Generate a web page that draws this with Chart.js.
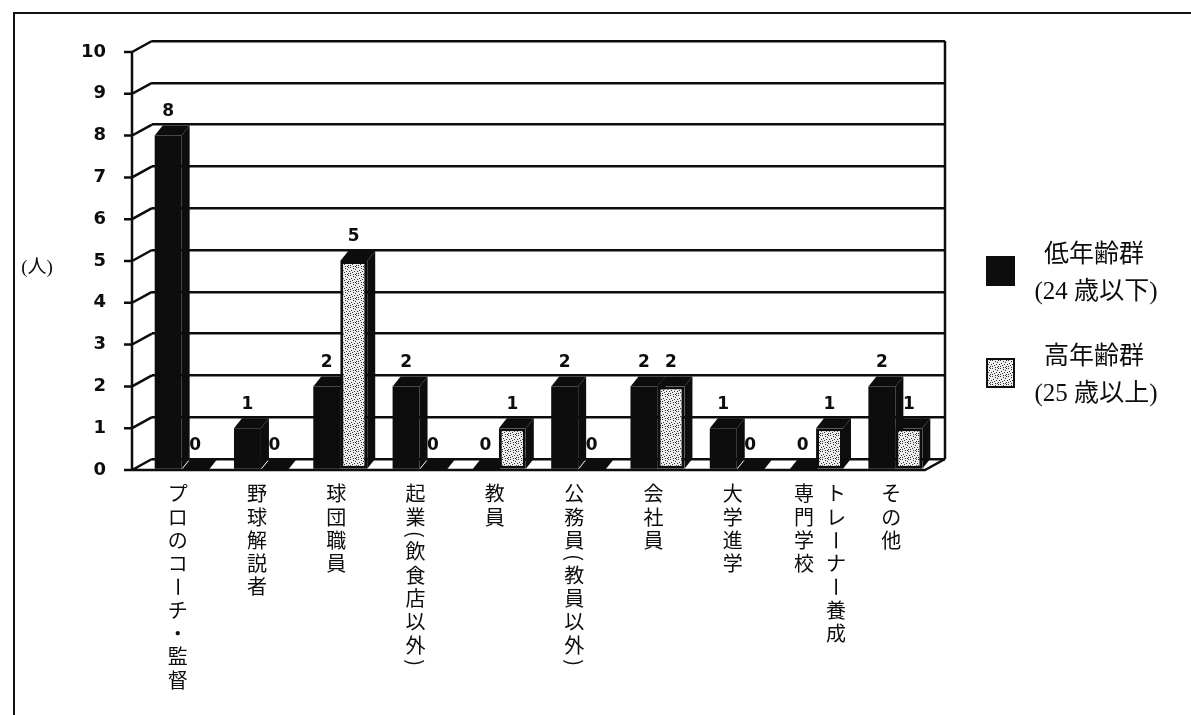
<!DOCTYPE html>
<html lang="ja">
<head>
<meta charset="utf-8">
<title>進路</title>
<script src="https://cdn.jsdelivr.net/npm/chart.js@4/dist/chart.umd.min.js"></script>
<style>
  html, body { margin: 0; padding: 0; background: #fff; }
  #wrap { position: relative; width: 1191px; height: 715px; overflow: hidden; }
  #frame { position: absolute; left: 13px; top: 12px; right: -10px; bottom: -10px;
           border-left: 2px solid #111; border-top: 2px solid #111; }
  #chart { position: absolute; left: 0; top: 0; }
</style>
</head>
<body>
<div id="wrap">
  <div id="frame"></div>
  <canvas id="chart" width="1191" height="715"></canvas>
</div>
<script>
// ===== データ =====
const categories = [
  ["プロのコーチ・監督"],
  ["野球解説者"],
  ["球団職員"],
  ["起業(飲食店以外)"],
  ["教員"],
  ["公務員(教員以外)"],
  ["会社員"],
  ["大学進学"],
  ["トレーナー養成", "専門学校"],
  ["その他"]
];
const youngCounts = [8, 1, 2, 2, 0, 2, 2, 1, 0, 2];
const olderCounts = [0, 0, 5, 0, 1, 0, 2, 0, 1, 1];
const seriesNames = ["低年齢群", "高年齢群"];
const seriesNotes = ["(24 歳以下)", "(25 歳以上)"];
const yMin = 0, yMax = 10, yStep = 1;
const unitLabel = "(人)";

// ===== 見た目 =====
const INK = "#0d0d0d";
const DEPTH_X = 8, DEPTH_Y = 10;    // 棒の上面・側面の奥行き
const SHIFT_X = -10, SHIFT_Y = 11;  // 棒の前面を手前にずらす量
const AXIS_X = -20, AXIS_Y = 11;    // 手前の縦軸と床の線
const TICK_FONT = { family: "'DejaVu Sans', sans-serif", weight: "bold", size: 18 };
const VALUE_FONT = "bold 17px 'DejaVu Sans', sans-serif";
const CAT_FONT = "20px 'Noto Sans CJK JP', sans-serif";
const LEGEND_FONT = "25px 'Liberation Serif', 'Noto Sans CJK JP', serif";
const UNIT_FONT = "19px 'Liberation Serif', 'Noto Sans CJK JP', serif";
const ROTATE_CHARS = "ー()";
const HALF_CHARS = "()";

// 高年齢群の網かけ
function makeStipple(){
  const c = document.createElement("canvas");
  c.width = 8; c.height = 8;
  const g = c.getContext("2d");
  g.fillStyle = "#ececec";
  g.fillRect(0, 0, 8, 8);
  g.fillStyle = "#333";
  [[0,0],[3,1],[6,0],[1,3],[5,2],[7,4],[2,5],[4,4],[6,6],[0,6],[3,7],[5,7]]
    .forEach(([x, y]) => g.fillRect(x, y, 1, 1));
  return g.createPattern(c, "repeat");
}
const stipple = makeStipple();

// ===== 3D風の描画 =====
function drawBarBody(ctx, el, fill){
  const L = el.x - el.width / 2 + SHIFT_X;
  const R = el.x + el.width / 2 + SHIFT_X;
  const T = el.y + SHIFT_Y;
  const B = el.base + SHIFT_Y;
  ctx.fillStyle = fill;
  ctx.beginPath();
  ctx.moveTo(L, T); ctx.lineTo(R, T);
  ctx.lineTo(R + DEPTH_X, T - DEPTH_Y); ctx.lineTo(L + DEPTH_X, T - DEPTH_Y);
  ctx.closePath(); ctx.fill();
  ctx.beginPath();
  ctx.moveTo(R, T); ctx.lineTo(R + DEPTH_X, T - DEPTH_Y);
  ctx.lineTo(R + DEPTH_X, B - DEPTH_Y); ctx.lineTo(R, B);
  ctx.closePath(); ctx.fill();
}

const depthPlugin = {
  id: "depth",
  beforeDatasetsDraw(chart){
    const { ctx, chartArea: a, scales: { y } } = chart;
    const fx = a.left + AXIS_X;
    ctx.save();
    ctx.strokeStyle = INK;
    ctx.lineWidth = 2.5;
    ctx.beginPath();
    ctx.moveTo(fx, a.top + AXIS_Y);
    ctx.lineTo(fx, a.bottom + AXIS_Y);
    y.ticks.forEach(t => {
      const py = y.getPixelForValue(t.value);
      ctx.moveTo(fx - 8, py + AXIS_Y);
      ctx.lineTo(fx, py + AXIS_Y);
      ctx.lineTo(a.left, py);
    });
    ctx.moveTo(fx, a.bottom + AXIS_Y);
    ctx.lineTo(a.right + AXIS_X, a.bottom + AXIS_Y);
    ctx.lineTo(a.right, a.bottom);
    ctx.moveTo(a.right, a.top);
    ctx.lineTo(a.right, a.bottom);
    ctx.stroke();

    for (let d = chart.data.datasets.length - 1; d >= 0; d--){
      chart.getDatasetMeta(d).data.forEach(el => drawBarBody(ctx, el, INK));
    }
    ctx.restore();

    // 前面は Chart.js に描かせて手前へずらす
    ctx.save();
    ctx.translate(SHIFT_X, SHIFT_Y);
  },
  afterDatasetsDraw(chart){
    const ctx = chart.ctx;
    ctx.restore();
    ctx.save();
    ctx.fillStyle = INK;
    ctx.font = VALUE_FONT;
    ctx.textAlign = "center";
    ctx.textBaseline = "middle";
    chart.data.datasets.forEach((ds, d) => {
      chart.getDatasetMeta(d).data.forEach((el, i) => {
        ctx.fillText(String(ds.data[i]), el.x + SHIFT_X, el.y + SHIFT_Y - 24);
      });
    });
    ctx.restore();
  },
  afterDraw(chart){
    const { ctx, chartArea: a, scales: { x } } = chart;
    ctx.save();
    ctx.fillStyle = INK;
    ctx.textAlign = "center";
    ctx.textBaseline = "middle";

    // 縦書きの項目名
    ctx.font = CAT_FONT;
    const pitch = 23.3, colGap = 32;
    categories.forEach((lines, i) => {
      const n = lines.length;
      const baseX = x.getPixelForTick(i) - 14 + (n - 1) * 8;
      lines.forEach((line, k) => {
        const cx = baseX + ((n - 1) / 2 - k) * colGap;
        let cy = a.bottom + 23;
        [...line].forEach(ch => {
          const h = HALF_CHARS.includes(ch) ? pitch / 2 : pitch;
          if (ROTATE_CHARS.includes(ch)){
            ctx.save();
            ctx.translate(cx, cy + h / 2);
            ctx.rotate(Math.PI / 2);
            ctx.fillText(ch, 0, 0);
            ctx.restore();
          } else {
            ctx.fillText(ch, cx, cy + h / 2);
          }
          cy += h;
        });
      });
    });

    // 単位
    ctx.font = UNIT_FONT;
    ctx.fillText(unitLabel, 37, 268);

    // 凡例
    ctx.font = LEGEND_FONT;
    chart.data.datasets.forEach((ds, d) => {
      const top = 240 + d * 102;
      ctx.fillStyle = ds.backgroundColor;
      ctx.fillRect(987, top + 17, 27, 28);
      ctx.strokeStyle = INK;
      ctx.lineWidth = 2;
      ctx.strokeRect(987, top + 17, 27, 28);
      ctx.fillStyle = INK;
      ctx.fillText(seriesNames[d], 1094, top + 15);
      ctx.fillText(seriesNotes[d], 1096, top + 52);
    });
    ctx.restore();
  }
};

// ===== グラフ =====
new Chart(document.getElementById("chart"), {
  type: "bar",
  data: {
    labels: categories,
    datasets: [
      {
        label: seriesNames[0] + seriesNotes[0],
        data: youngCounts,
        backgroundColor: INK,
        borderWidth: 0,
        categoryPercentage: 0.68,
        barPercentage: 1,
        clip: false
      },
      {
        label: seriesNames[1] + seriesNotes[1],
        data: olderCounts,
        backgroundColor: stipple,
        borderColor: INK,
        borderWidth: 3,
        borderSkipped: false,
        categoryPercentage: 0.68,
        barPercentage: 1,
        clip: false
      }
    ]
  },
  options: {
    responsive: false,
    devicePixelRatio: 1,
    animation: false,
    layout: { padding: { left: 0, top: 41, right: 246, bottom: 256 } },
    scales: {
      x: {
        offset: true,
        grid: { display: false },
        border: { display: false },
        ticks: { display: false },
        afterFit: s => { s.height = 0; }
      },
      y: {
        min: yMin, max: yMax,
        ticks: { stepSize: yStep, padding: 2, labelOffset: AXIS_Y, color: INK, font: TICK_FONT },
        // 目盛り線は透明にして、ラベルを手前の軸の左へ寄せるためだけに使う
        grid: { color: INK, lineWidth: 2.5, drawTicks: true, tickLength: 44, tickColor: "rgba(0,0,0,0)" },
        border: { display: false },
        afterFit: s => { s.width = 152; }
      }
    },
    plugins: {
      legend: { display: false },
      tooltip: { enabled: false }
    }
  },
  plugins: [depthPlugin]
});
</script>
</body>
</html>
